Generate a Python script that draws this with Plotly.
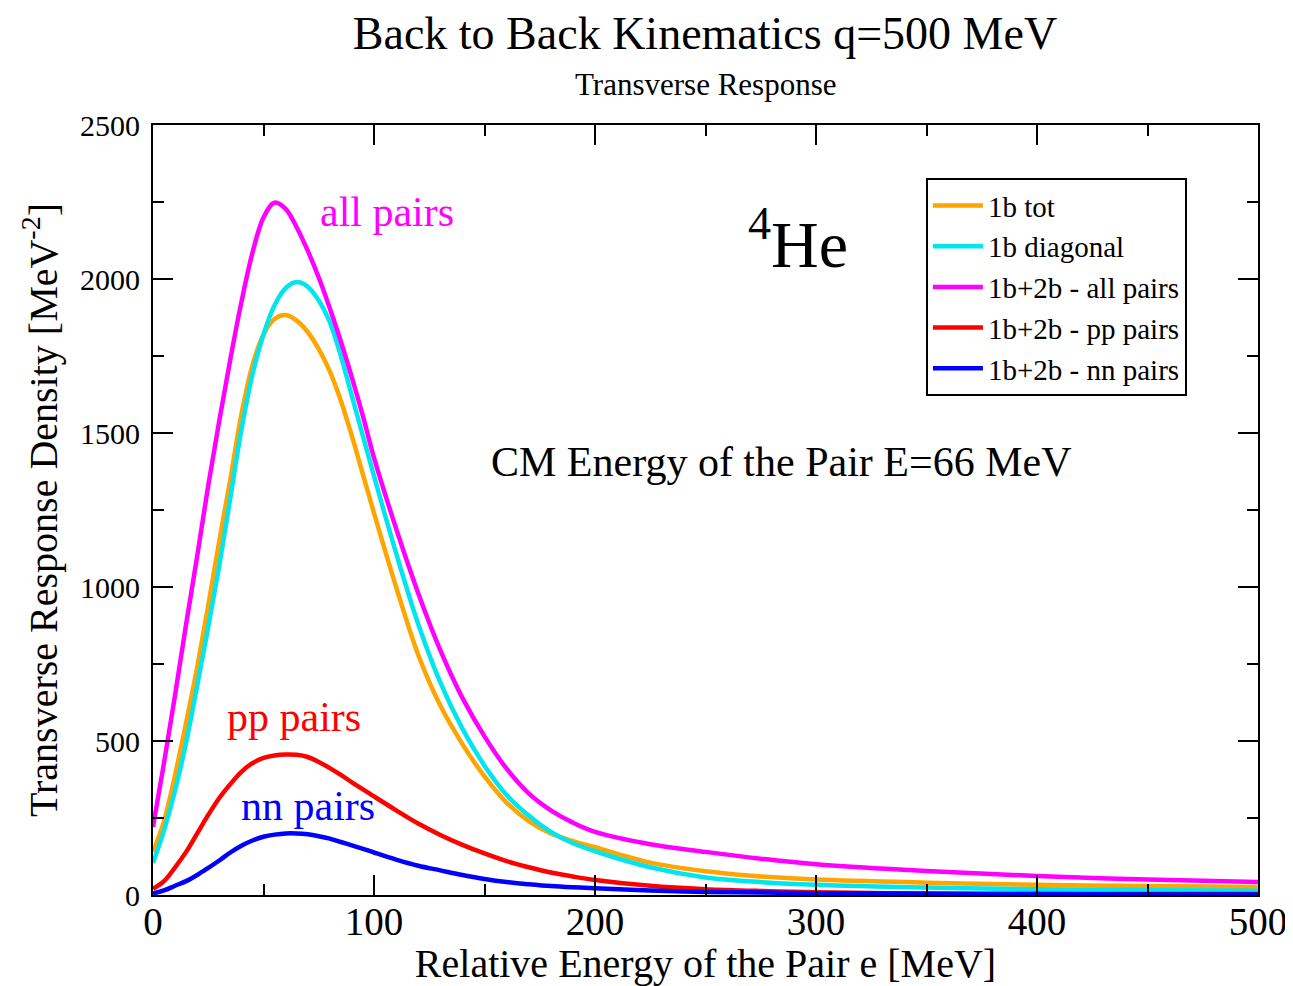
import plotly.graph_objects as go

# Relative energy of the pair e [MeV]
e_vals = [0, 5, 10, 15, 20, 25, 30, 35, 40, 45, 50, 55, 60, 65, 70, 75, 80, 85, 90, 95, 100,
          110, 120, 130, 140, 150, 160, 170, 180, 190, 200,
          225, 250, 275, 300, 350, 400, 450, 500]

one_b_tot = [140, 240, 390, 560, 740, 940, 1150, 1350, 1560, 1720, 1820, 1870, 1883, 1865, 1828,
             1772, 1700, 1605, 1490, 1365, 1240,
             1000, 780, 615, 490, 385, 300, 240, 200, 175, 155,
             105, 77, 60, 50, 40, 33, 29, 26]
one_b_diag = [104, 210, 340, 495, 680, 870, 1070, 1290, 1510, 1690, 1820, 1915, 1970, 1990, 1975,
              1930, 1860, 1750, 1620, 1490, 1360,
              1110, 880, 690, 540, 420, 325, 258, 205, 168, 142,
              90, 57, 42, 33, 24, 19, 16, 14]
all_pairs = [221, 430, 650, 880, 1100, 1330, 1540, 1740, 1925, 2085, 2200, 2248, 2228, 2168, 2092,
             2005, 1905, 1797, 1680, 1555, 1420,
             1190, 980, 795, 640, 515, 410, 330, 275, 235, 205,
             165, 140, 118, 100, 78, 62, 50, 42]
pp_pairs = [20, 45, 90, 140, 200, 260, 315, 360, 400, 428, 445, 453, 456, 455, 448,
            432, 412, 390, 366, 343, 320,
            275, 232, 195, 163, 135, 110, 90, 73, 60, 49,
            30, 19, 13, 9, 5, 4, 3, 3]
nn_pairs = [5, 15, 30, 45, 65, 88, 112, 138, 160, 177, 189, 196, 200, 200, 197,
            191, 183, 172, 161, 150, 138,
            115, 95, 80, 65, 52, 42, 35, 29, 25, 22,
            15, 10, 8, 6, 4, 3, 2, 2]

series_names = ["1b tot", "1b diagonal", "1b+2b - all pairs", "1b+2b - pp pairs", "1b+2b - nn pairs"]
series_vals = [one_b_tot, one_b_diag, all_pairs, pp_pairs, nn_pairs]
series_colors = ["#FFA500", "#00E5EE", "#FF00FF", "#FF0000", "#0000FF"]

FONT = "Liberation Serif"

fig = go.Figure()
for name, vals, col in zip(series_names, series_vals, series_colors):
    fig.add_trace(go.Scatter(x=e_vals, y=vals, mode="lines", name=name,
                             line=dict(color=col, width=4.5, shape="spline", smoothing=1.0)))

axis_common = dict(
    showline=True, linecolor="black", linewidth=2, mirror="allticks",
    ticks="inside", ticklen=20, tickwidth=2, tickcolor="black",
    showgrid=False, zeroline=False, automargin=False,
)

fig.update_xaxes(range=[0, 500], dtick=100, tick0=0,
                 minor=dict(dtick=50, ticks="inside", ticklen=11, tickwidth=2, tickcolor="black"),
                 tickfont=dict(family=FONT, size=39, color="black"), ticklabelstandoff=-9,
                 title=dict(text="Relative Energy of the Pair e [MeV]",
                            font=dict(family=FONT, size=40, color="black"), standoff=2),
                 **axis_common)
fig.update_yaxes(range=[0, 2500], dtick=500, tick0=0,
                 minor=dict(dtick=250, ticks="inside", ticklen=11, tickwidth=2, tickcolor="black"),
                 tickfont=dict(family=FONT, size=30, color="black"), ticklabelstandoff=5,
                 title=dict(text="Transverse Response Density [MeV<sup>-2</sup>]",
                            font=dict(family=FONT, size=40, color="black"), standoff=10),
                 **axis_common)

# page body adds ~8 px offset; figure sized to fit the window
fig.update_layout(
    width=1285, height=978,
    margin=dict(l=145, r=35, t=117, b=91),
    paper_bgcolor="white", plot_bgcolor="white",
    title=dict(text="Back to Back Kinematics q=500 MeV", x=0.5424, xanchor="center",
               y=1 - 25 / 978, yanchor="middle",
               font=dict(family=FONT, size=46, color="black")),
    showlegend=True,
    legend=dict(x=0.6995, y=0.931, xanchor="left", yanchor="top",
                bordercolor="black", borderwidth=2, bgcolor="white",
                font=dict(family=FONT, size=29, color="black"),
                tracegroupgap=0, itemwidth=50),
    font=dict(family=FONT, color="black"),
)

fig.add_annotation(text="Transverse Response", xref="paper", yref="paper",
                   x=0.5, y=1.0 + 40 / 770, xanchor="center", yanchor="middle",
                   showarrow=False, font=dict(family=FONT, size=31, color="black"))
fig.add_annotation(text="all pairs", x=106, y=2218, xanchor="center", yanchor="middle",
                   showarrow=False, font=dict(family=FONT, size=42, color="#FF00FF"))
fig.add_annotation(text="pp pairs", x=64, y=578, xanchor="center", yanchor="middle",
                   showarrow=False, font=dict(family=FONT, size=42, color="#FF0000"))
fig.add_annotation(text="nn pairs", x=70, y=289, xanchor="center", yanchor="middle",
                   showarrow=False, font=dict(family=FONT, size=42, color="#0000FF"))
fig.add_annotation(text="<sup>4</sup>He", x=292, y=2127, xanchor="center", yanchor="middle",
                   showarrow=False, font=dict(family=FONT, size=66, color="black"))
fig.add_annotation(text="CM Energy of the Pair E=66 MeV", x=284.6, y=1406, xanchor="center",
                   yanchor="middle", showarrow=False,
                   font=dict(family=FONT, size=42, color="black"))

fig.write_html("out.html")
